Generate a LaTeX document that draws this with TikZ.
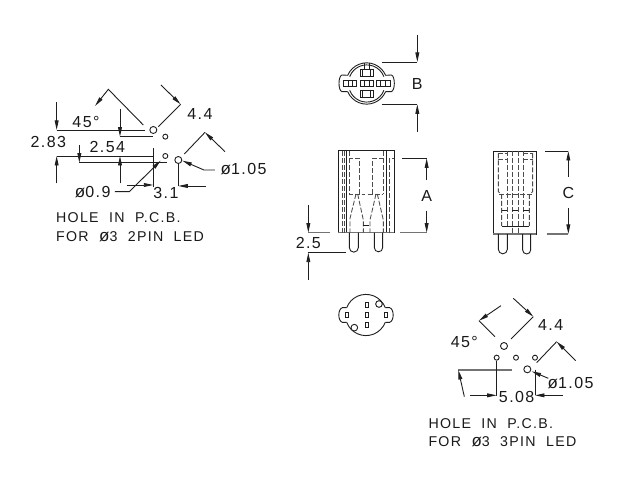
\documentclass[tikz,border=0pt]{standalone}
\usepackage{fontspec}
\setmainfont[LetterSpace=9]{Liberation Sans}
\usetikzlibrary{arrows.meta}
\tikzset{
  ln/.style={line width=0.9pt,draw=black!88},
  dim/.style={ln,-{Triangle[length=9.5pt,width=3.8pt]}},
  dimb/.style={ln,{Triangle[length=9.5pt,width=3.8pt]}-},
  dsh/.style={line width=0.85pt,draw=black!70,dash pattern=on 5pt off 2pt},
  gr/.style={line width=1.2pt,draw=black!55},
  txt/.style={inner sep=0pt,text=black!90,font=\fontsize{16}{16}\selectfont},
  note/.style={inner sep=0pt,anchor=west,text=black!90,font=\fontsize{14.2}{14.2}\selectfont},
  z1/.style={shift={(20,70)},x=0.3333pt,y=-0.3333pt},
  z2/.style={shift={(320,20)},x=0.3333pt,y=-0.3333pt},
  z3/.style={shift={(295,140)},x=0.3333pt,y=-0.3333pt},
  z4/.style={shift={(480,140)},x=0.3333pt,y=-0.3333pt},
  z5/.style={shift={(420,290)},x=0.3333pt,y=-0.3333pt},
  z6/.style={shift={(325,285)},x=0.3333pt,y=-0.3333pt},
}
\newcommand{\dia}{{\fontsize{17}{17}\selectfont ø}}
\begin{document}
\begin{tikzpicture}[x=1pt,y=-1pt]
\useasboundingbox[fill=white] (0,0) rectangle (623,481);

% ---------- 2-pin hole pattern
\begin{scope}[z1]
\draw[ln] (400,180) circle (10.5);
\draw[ln] (436,200) circle (7.5);
\draw[ln] (436,258) circle (7.5);
\draw[ln] (475,270) circle (10.5);
\draw[dim] (110,97) -- (110,180);
\draw[ln] (110,180) -- (375,180);
\draw[dimb] (225,108) -- (265,58) -- (370,165);
\draw[ln] (415,170) -- (482,103);
\draw[dim] (423,45) -- (482,103);
\draw[dim] (300,117) -- (300,200);
\draw[ln] (300,200) -- (400,200);
\draw[dim] (110,340) -- (110,258);
\draw[ln] (110,258) -- (400,258);
\draw[dim] (178,225) -- (178,278);
\draw[ln] (178,278) -- (440,278);
\draw[dim] (300,340) -- (300,258);
\draw[ln] (400,235) -- (400,350);
\draw[dim] (320,345) -- (400,345);
\draw[dim] (285,365) -- (328,365) -- (422,272);
\draw[ln] (475,280) -- (475,348);
\draw[dim] (558,348) -- (475,348);
\draw[dim] (585,300) -- (552,300) -- (487,272);
\draw[ln] (493,252) -- (555,187);
\draw[dim] (615,245) -- (555,187);
\node[txt] (a45) at (198,155) {45°};
\node[txt] (a44) at (540,131) {4.4};
\node[txt] (a283) at (85,217) {2.83};
\node[txt] (a254) at (262,232) {2.54};
\node[txt] (a09) at (218,365) {\dia 0.9};
\node[txt] (a31) at (438,370) {3.1};
\node[txt] (a105) at (671,298) {\dia 1.05};
\node[note] (ah1) at (108,443) {HOLE\ \ IN\ \ P.C.B.};
\node[note] (ah2) at (108,500) {FOR\ \ \dia 3\ \ 2PIN\ \ LED};
\end{scope}

% ---------- top view
\begin{scope}[z2]
\draw[ln] (83,166) arc (203.3:336.7:62);
\draw[ln] (83,215) arc (156.7:23.3:62);
\draw[ln] (89,170) arc (201:339:55);
\draw[ln] (89,211) arc (159:21:55);
\draw[ln] (83,166) -- (66,165) .. controls (54,168) and (54,212) .. (66,215) -- (83,215);
\draw[ln] (197,166) -- (214,165) .. controls (226,168) and (226,212) .. (214,215) -- (197,215);
\draw[ln] (70,180) rectangle (110,200);
\draw[ln] (170,180) rectangle (210,200);
\draw[ln] (120,180) rectangle (160,200);
\draw[ln] (85,180) -- (85,200) (98,180) -- (98,200) (182,180) -- (182,200) (195,180) -- (195,200);
\draw[ln] (133,180) -- (133,200) (147,180) -- (147,200);
\draw[ln] (120,147) rectangle (160,170);
\draw[ln] (120,210) rectangle (160,233);
\draw[ln] (128,147) -- (128,170) (152,147) -- (152,170) (128,210) -- (128,233) (152,210) -- (152,233);
\draw[ln] (132,128) -- (132,147) (148,128) -- (148,147);
\draw[ln] (185,126) -- (292,126);
\draw[dim] (292,45) -- (292,126);
\draw[ln] (185,253) -- (292,253);
\draw[dim] (292,335) -- (292,253);
\node[txt] (bB) at (292,192) {B};
\end{scope}

% ---------- front view
\begin{scope}[z3]
\draw[ln] (130,30) rectangle (298,278);
\draw[ln] (154,30) -- (154,278) (274,30) -- (274,278);
\draw[gr] (130,278) -- (298,278);
\draw[dsh] (141,33) -- (141,278) (148,33) -- (148,278);
\draw[dsh] (265,33) -- (265,162);
\draw[dsh] (283,278) -- (283,55) -- (298,55);
\draw[dsh] (163,33) -- (163,162) -- (210,162);
\draw[dsh] (193,162) -- (193,55) -- (165,55);
\draw[dsh] (233,162) -- (233,55) -- (265,55);
\draw[dsh] (218,162) -- (265,162);
\draw[dsh] (183,162) -- (165,235) -- (165,278);
\draw[dsh] (188,162) -- (205,240) -- (205,278);
\draw[dsh] (243,162) -- (225,240) -- (225,278);
\draw[dsh] (247,162) -- (265,240) -- (265,278);
\draw[ln] (205,255) -- (222,255);
\draw[ln] (163,278) -- (163,323) arc (180:0:13.5) -- (190,278);
\draw[ln] (238,278) -- (238,323) arc (180:0:12.5) -- (263,278);
\draw[ln] (322,55) -- (395,55);
\draw[dim] (395,120) -- (395,55);
\draw[gr] (315,278) -- (395,278);
\draw[dim] (395,212) -- (395,278);
\node[txt] (cA) at (395,168) {A};
\draw[dim] (40,195) -- (40,278);
\draw[gr] (40,278) -- (105,278);
\draw[ln] (40,338) -- (152,338);
\draw[dim] (40,420) -- (40,338);
\node[txt] (c25) at (40,310) {2.5};
\end{scope}

% ---------- side view
\begin{scope}[z4]
\draw[ln] (40,33) rectangle (168,282);
\draw[gr] (40,282) -- (168,282);
\draw[dsh] (55,40) -- (80,40) (130,40) -- (158,40);
\draw[dsh] (55,57) -- (82,57) (128,57) -- (158,57);
\draw[dsh] (55,40) -- (55,155) -- (65,165) -- (65,258);
\draw[dsh] (82,33) -- (82,258);
\draw[dsh] (96,33) -- (96,282);
\draw[dsh] (115,33) -- (115,282);
\draw[dsh] (130,33) -- (130,258);
\draw[dsh] (158,40) -- (158,155) -- (148,165) -- (148,258);
\draw[dsh] (58,162) -- (155,162);
\draw[ln] (65,212) -- (82,212) (96,212) -- (115,212) (130,212) -- (148,212);
\draw[ln] (65,258) -- (148,258);
\draw[ln] (55,282) -- (55,328) arc (180:0:13.5) -- (82,282);
\draw[ln] (128,282) -- (128,330) arc (180:0:12) -- (152,282);
\draw[ln] (195,33) -- (265,33);
\draw[dim] (265,110) -- (265,33);
\draw[gr] (200,282) -- (265,282);
\draw[dim] (265,205) -- (265,282);
\node[txt] (dC) at (265,160) {C};
\end{scope}

% ---------- bottom view
\begin{scope}[z6]
\draw[ln] (65,68) arc (201:339:62);
\draw[ln] (65,112) arc (159:21:62);
\draw[ln] (65,68) -- (52,68) .. controls (38,72) and (38,108) .. (52,112) -- (65,112);
\draw[ln] (181,68) -- (194,68) .. controls (208,72) and (208,108) .. (194,112) -- (181,112);
\foreach \p in {(66,90),(183,90),(125,60),(125,90),(125,120)}{
  \draw[ln,shift={\p}] (-5,-7) rectangle (5,7);
}
\draw[ln,fill=white] (162,57) circle (10);
\draw[ln,fill=white] (88,128) circle (10);
\end{scope}

% ---------- 3-pin hole pattern
\begin{scope}[z5]
\draw[ln] (252,168) circle (10.5);
\draw[ln] (230,203) circle (7.5);
\draw[ln] (288,203) circle (7.5);
\draw[ln] (345,203) circle (7.5);
\draw[ln] (322,238) circle (10.5);
\draw[ln] (225,140) -- (177,92);
\draw[dim] (243,47) -- (177,92);
\draw[ln] (273,147) -- (340,80);
\draw[dim] (280,25) -- (340,80);
\draw[ln] (350,218) -- (410,155);
\draw[dim] (467,212) -- (410,155);
\draw[dim] (385,265) -- (335,244);
\draw[gr] (115,240) -- (275,240);
\draw[dim] (133,320) -- (115,240);
\draw[ln] (230,212) -- (230,318);
\draw[dim] (150,316) -- (230,316);
\draw[ln] (345,240) -- (345,316);
\draw[dim] (428,316) -- (345,316);
\node[txt] (e45) at (133,157) {45°};
\node[txt] (e44) at (392,105) {4.4};
\node[txt] (e105) at (452,278) {\dia 1.05};
\node[txt] (e508) at (290,320) {5.08};
\node[note] (eh1) at (25,402) {HOLE\ \ IN\ \ P.C.B.};
\node[note] (eh2) at (25,455) {FOR\ \ \dia 3\ \ 3PIN\ \ LED};
\end{scope}
\end{tikzpicture}
\end{document}
